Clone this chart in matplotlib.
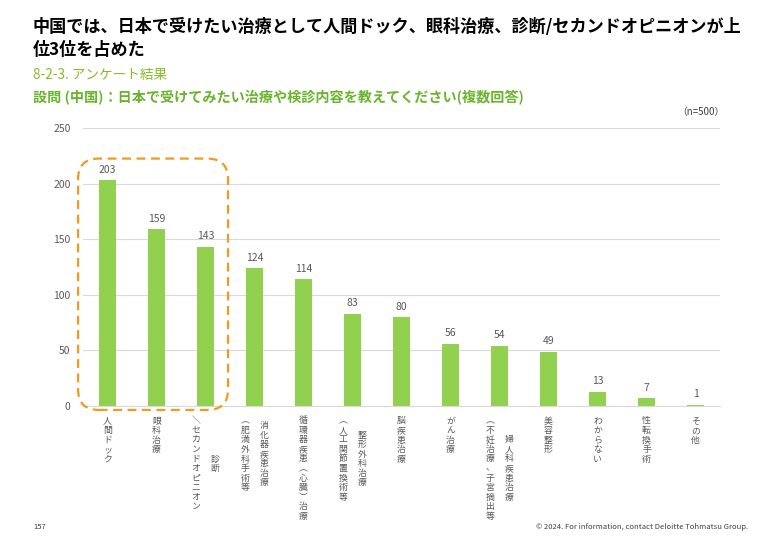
import matplotlib
matplotlib.use('agg')
import matplotlib.pyplot as plt
from matplotlib.patches import FancyBboxPatch

plt.rcParams['font.family'] = ['Noto Sans CJK JP', 'DejaVu Sans']

# データ
categories = ['人間ドック', '眼科治療', '診断/セカンドオピニオン',
              '消化器疾患治療(肥満外科手術等)', '循環器疾患(心臓)治療',
              '整形外科治療(人工関節置換術等)', '脳疾患治療', 'がん治療',
              '婦人科疾患治療(不妊治療、子宮摘出等)', '美容整形', 'わからない',
              '性転換手術', 'その他']
values = [203, 159, 143, 124, 114, 83, 80, 56, 54, 49, 13, 7, 1]
# 縦書きラベル（右の列から順に）
label_columns = [
    ['人間ドック'],
    ['眼科治療'],
    ['診断', '＼セカンドオピニオン'],
    ['消化器疾患治療', '︵肥満外科手術等'],
    ['循環器疾患︵心臓︶治療'],
    ['整形外科治療', '︵人工関節置換術等'],
    ['脳疾患治療'],
    ['がん治療'],
    ['婦人科疾患治療', '︵不妊治療、子宮摘出等'],
    ['美容整形'],
    ['わからない'],
    ['性転換手術'],
    ['その他'],
]
yticks = [0, 50, 100, 150, 200, 250]
top_n = 3

green = '#92D050'
gray = '#595959'
orange = '#F39A1E'

fig = plt.figure(figsize=(7.8, 5.4), dpi=100)
ax = fig.add_axes([0.1064, 0.248, 0.8167, 0.515])

x = range(len(values))
ax.bar(x, values, width=0.36, color=green, zorder=2)
ax.set_xlim(-0.5, len(values) - 0.5)
ax.set_ylim(0, 250)
ax.set_yticks(yticks)
ax.tick_params(axis='y', length=0, labelsize=7.5, labelcolor=gray, pad=9)
ax.set_xticks([])
ax.grid(axis='y', color='#D9D9D9', linewidth=0.8, zorder=0)
for s in ['top', 'right', 'left']:
    ax.spines[s].set_visible(False)
ax.spines['bottom'].set_color('#D9D9D9')

for i, v in enumerate(values):
    ax.annotate(str(v), (i, v), xytext=(0, 4), textcoords='offset points',
                ha='center', va='bottom', fontsize=7.5, color=gray)

# 縦書きラベル
pitch = 6.8
for i, cols in enumerate(label_columns):
    n = len(cols)
    longest = max(len(c) for c in cols)
    yc = -7.5 - longest * pitch / 2
    for j, col in enumerate(cols):
        dx = (n - 1) / 2 * 13.5 - j * 13.5
        ax.annotate('\n'.join(col), (i, 0), xycoords=('data', 'axes fraction'),
                    xytext=(dx, yc), textcoords='offset points',
                    ha='center', va='center', fontsize=6.4, color=gray,
                    linespacing=1.08, annotation_clip=False)

# 上位3位を囲む枠
px_per_x = ax.get_position().width * 780 / len(values)
px_per_y = ax.get_position().height * 540 / 250
box = FancyBboxPatch((-0.6, -3.5), (top_n - 1) + 1.06, max(values) + 23,
                     boxstyle='round,pad=0,rounding_size=0.42',
                     mutation_aspect=px_per_x / px_per_y,
                     fill=False, edgecolor=orange, linewidth=1.6,
                     linestyle=(0, (4, 2.5)), clip_on=False, zorder=3)
ax.add_patch(box)

# テキスト
fig.text(33 / 780, 1 - 27 / 540,
         '中国では、日本で受けたい治療として人間ドック、眼科治療、診断/セカンドオピニオンが上',
         fontsize=12.3, fontweight='bold', va='center', ha='left')
fig.text(33 / 780, 1 - 50 / 540, '位3位を占めた',
         fontsize=12.3, fontweight='bold', va='center', ha='left')
fig.text(33 / 780, 1 - 75 / 540, '8-2-3. アンケート結果',
         fontsize=9.8, color='#86BC25', va='center', ha='left')
fig.text(33 / 780, 1 - 98 / 540,
         '設問 (中国)：日本で受けてみたい治療や検診内容を教えてください(複数回答)',
         fontsize=10.2, fontweight='bold', color='#6AB42D', va='center', ha='left')
fig.text(724 / 780, 1 - 112 / 540, '（n=500）', fontsize=7, color='#404040',
         va='center', ha='right')
fig.text(33 / 780, 1 - 527 / 540, '157', fontsize=5.5, color='#404040',
         va='center', ha='left')
fig.text(748 / 780, 1 - 527 / 540,
         '© 2024. For information, contact Deloitte Tohmatsu Group.',
         fontsize=5.5, color='#404040', va='center', ha='right')

plt.savefig('out.png', dpi=100)
